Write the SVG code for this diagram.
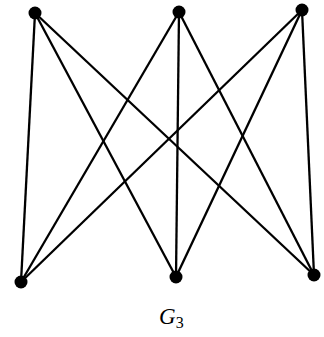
<svg xmlns="http://www.w3.org/2000/svg" width="324" height="337" viewBox="0 0 324 337">
<style>
.e{stroke:#000;stroke-width:2.3;fill:none}
.n{fill:#000}
.t{font-family:"Liberation Serif",serif;font-size:23px;font-style:italic}
.s{font-family:"Liberation Serif",serif;font-size:16px}
</style>
<rect width="324" height="337" fill="#fff"/>
<g id="edges">
<line class="e" x1="35" y1="13" x2="21" y2="282"/>
<line class="e" x1="35" y1="13" x2="176" y2="277"/>
<line class="e" x1="35" y1="13" x2="314" y2="275"/>
<line class="e" x1="179" y1="12" x2="21" y2="282"/>
<line class="e" x1="179" y1="12" x2="176" y2="277"/>
<line class="e" x1="179" y1="12" x2="314" y2="275"/>
<line class="e" x1="302" y1="10" x2="21" y2="282"/>
<line class="e" x1="302" y1="10" x2="176" y2="277"/>
<line class="e" x1="302" y1="10" x2="314" y2="275"/>
</g>
<g id="t1"><circle class="n" cx="35" cy="13" r="6.5"/></g>
<g id="t2"><circle class="n" cx="179" cy="12" r="6.5"/></g>
<g id="t3"><circle class="n" cx="302" cy="10" r="6.5"/></g>
<g id="b1"><circle class="n" cx="21" cy="282" r="6.5"/></g>
<g id="b2"><circle class="n" cx="176" cy="277" r="6.5"/></g>
<g id="b3"><circle class="n" cx="314" cy="275" r="6.5"/></g>
<g id="label"><text class="t" x="159" y="324">G<tspan class="s" dy="4" font-style="normal">3</tspan></text></g>
</svg>
